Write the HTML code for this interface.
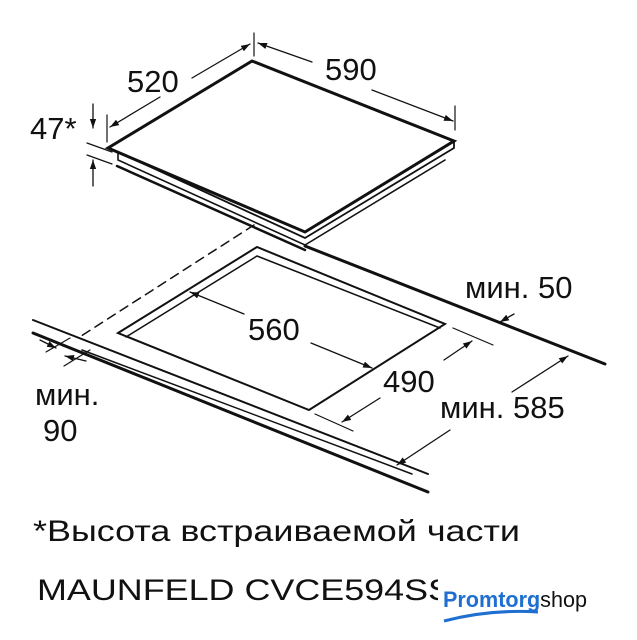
<!DOCTYPE html>
<html><head><meta charset="utf-8"><style>
html,body{margin:0;padding:0;background:#fff;width:637px;height:640px;overflow:hidden}
svg{display:block}
text{font-family:"Liberation Sans",sans-serif;fill:#111}
</style></head><body>
<svg width="637" height="640" viewBox="0 0 637 640" xmlns="http://www.w3.org/2000/svg">
<defs><marker id="a" viewBox="0 0 10 10" refX="10" refY="5" markerWidth="9" markerHeight="9" orient="auto" markerUnits="userSpaceOnUse"><path d="M0,1.5L10,5L0,8.5z" fill="#111"/></marker></defs>
<g stroke="#111" fill="none" stroke-linecap="round">
<path d="M108,148 L252,61 L454,141 L305,232 Z" stroke-width="3"/>
<path d="M108,148 L118,152 L305,238 L454,148 L454,141" stroke-width="1.8"/>
<path d="M118,152 L118,160 L305,245 L445,160" stroke-width="1.6"/>
<path d="M117,166 L305,250" stroke-width="2.5"/>
<path d="M305,246 L605,364" stroke-width="3"/>
<path d="M254,225 L78,338" stroke-width="1.5" stroke-dasharray="9,6"/>
<path d="M33,320 L428,474" stroke-width="2"/>
<path d="M33,333 L428,492" stroke-width="3"/>
<path d="M82,350 L412,474" stroke-width="1.5"/>
<path d="M118,333 L257,247 L445,324 L309,410 Z" stroke-width="2"/>
<path d="M126,337 L257,256 L440,328" stroke-width="1.5"/>
<path d="M160,97 L110,127" stroke-width="1.3" marker-end="url(#a)"/>
<path d="M192,78 L250,44" stroke-width="1.3" marker-end="url(#a)"/>
<path d="M312,62 L258,43" stroke-width="1.3" marker-end="url(#a)"/>
<path d="M372,90 L453,121" stroke-width="1.3" marker-end="url(#a)"/>
<path d="M254,33 L254,56 M455,106 L455,130 M107,115 L107,142" stroke-width="1.2"/>
<path d="M93,104 L93,128" stroke-width="1.3" marker-end="url(#a)"/>
<path d="M93,186 L93,160" stroke-width="1.3" marker-end="url(#a)"/>
<path d="M87,143 L112,152 M87,155 L112,164" stroke-width="1.2"/>
<path d="M244,314 L190,292" stroke-width="1.3" marker-end="url(#a)"/>
<path d="M311,343 L372,368" stroke-width="1.3" marker-end="url(#a)"/>
<path d="M444,360 L472,341" stroke-width="1.3" marker-end="url(#a)"/>
<path d="M380,398 L342,422" stroke-width="1.3" marker-end="url(#a)"/>
<path d="M453,328 L493,345 M315,414 L353,431" stroke-width="1.2"/>
<path d="M512,392 L568,356" stroke-width="1.3" marker-end="url(#a)"/>
<path d="M450,430 L397,465" stroke-width="1.3" marker-end="url(#a)"/>
<path d="M514,314 L500,322" stroke-width="1.3" marker-end="url(#a)"/>
<path d="M40,340 L56,348" stroke-width="1.3" marker-end="url(#a)"/>
<path d="M86,361 L65,356" stroke-width="1.3" marker-end="url(#a)"/>
<path d="M46,352 L70,338 M64,366 L90,350" stroke-width="1.2"/>
</g>
<g font-size="31">
<text x="127" y="92">520</text>
<text x="325" y="80">590</text>
<text x="30" y="139">47*</text>
<text x="248" y="340">560</text>
<text x="383" y="392">490</text>
<text x="465" y="298">мин. 50</text>
<text x="440" y="418">мин. 585</text>
<text x="35" y="405">мин.</text>
<text x="43" y="441">90</text>
<text x="33" y="541" font-size="30" textLength="487" lengthAdjust="spacingAndGlyphs">*Высота встраиваемой части</text>
<text x="37" y="600" font-size="30" textLength="415" lengthAdjust="spacingAndGlyphs">MAUNFELD CVCE594SS</text>
</g>
<rect x="438" y="575" width="199" height="45" fill="#fff"/>
<text x="443" y="607" font-size="22" font-weight="bold" textLength="144" lengthAdjust="spacingAndGlyphs" style="fill:#1f6fd1">Promtorg<tspan style="fill:#111;font-weight:normal">shop</tspan></text>
<path d="M444,621 Q490,609 538,612" stroke="#1f6fd1" stroke-width="3" fill="none"/>
</svg>
</body></html>
